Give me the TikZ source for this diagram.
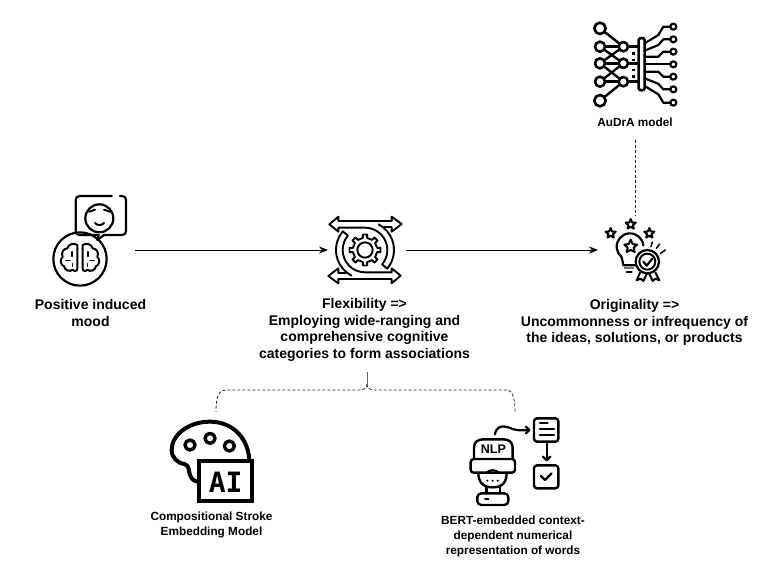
\documentclass[tikz,border=0pt]{standalone}
\usepackage{fontspec}
\setmainfont{Liberation Sans}
\newfontfamily\iconfont{DejaVu Sans Mono}
\usetikzlibrary{arrows.meta}
\usetikzlibrary{calc}

\tikzset{
    iconbox/.style = {minimum width=#1, inner sep=0pt, outer sep=0pt},
    caption/.style = {align=center, inner sep=0pt, font=\bfseries\fontsize{14}{16.8}\selectfont},
    smallcaption/.style = {align=center, inner sep=0pt, font=\bfseries\fontsize{11.8}{15}\selectfont},
    flow/.style = {line width=0.9pt, black, -{Stealth[length=9pt,width=7pt]}},
    linkdash/.style = {line width=0.8pt, dash pattern=on 3pt off 2pt, black!85},
    icon/.style = {line width=#1, black, line cap=round, line join=round},
    icon/.default = 2pt
}

% five pointed star, centre and radius
\newcommand{\iconstar}[3]{
    \draw [icon=2pt, shift={(#1,#2)}]
        (-90:#3) -- (-54:0.45*#3) -- (-18:#3) -- (18:0.45*#3) -- (54:#3) -- (90:0.45*#3)
        -- (126:#3) -- (162:0.45*#3) -- (198:#3) -- (234:0.45*#3) -- cycle;
}

\begin{document}
\begin{tikzpicture}[x=1pt, y=-1pt]
    \useasboundingbox (0,0) rectangle (781,577);

    % Invisible boxes around the icons, the connectors run between them
    \node [iconbox=78pt, minimum height=98pt] (MoodBox)  at (96,250)  {};
    \node [iconbox=78pt, minimum height=80pt] (GearBox)  at (367,250) {};
    \node [iconbox=74pt, minimum height=70pt] (BulbBox)  at (635,250) {};
    \node [iconbox=80pt, minimum height=90pt] (PaintBox) at (216,457) {};
    \node [iconbox=90pt, minimum height=90pt] (TalkBox)  at (515,457) {};

    % Labels
    \node [caption] (MoodText) at (90.5,313) {Positive induced\\mood};
    \node [caption] (GearText) at (364.5,330) {Flexibility =>\\Employing wide-ranging and\\comprehensive cognitive\\categories to form associations};
    \node [caption] (BulbText) at (634.5,322.5) {Originality =>\\Uncommonness or infrequency of\\the ideas, solutions, or products};
    \node [smallcaption] (ModelText) at (635,122) {AuDrA model};
    \node [smallcaption] (PaintText) at (211.5,524.5) {Compositional Stroke\\Embedding Model};
    \node [smallcaption] (TalkText)  at (513,536) {BERT-embedded context-\\dependent numerical\\representation of words};

    % Connectors
    \draw [flow] (MoodBox.east) -- (GearBox.west);
    \draw [flow] (GearBox.east) -- (BulbBox.west);
    \draw [linkdash] ([yshift=-13pt]ModelText.south) -- (BulbBox.north);

    \coordinate (Fork) at (367,384);
    \draw [line width=0.8pt, black!60] (367,372) -- (Fork);
    \draw [linkdash] (Fork) .. controls (367,388) and (365,390) .. (358,390) -- (226,390)
        .. controls (220,390) and (216,394) .. (PaintBox.north);
    \draw [linkdash] (Fork) .. controls (367,388) and (369,390) .. (376,390) -- (506,390)
        .. controls (511,390) and (515,394) .. (TalkBox.north);

    % Mood icon
    \begin{scope}[shift={(40,185)}, scale=1/3]
        \draw [icon=2.2pt] (240,33) -- (246,33) .. controls (254,33) and (258,37) .. (258,45) -- (258,138)
            .. controls (258,146) and (254,150) .. (246,150) -- (192,150) -- (172,165) -- (176,150) -- (122,150)
            .. controls (112,150) and (107,146) .. (107,138) -- (107,45) .. controls (107,37) and (112,33) .. (120,33) -- (215,33);
        \draw [icon=2.2pt] (178,100) circle (42);
        \draw [icon=2pt] (148,80) -- (165,74);
        \draw [icon=2pt] (192,74) -- (210,80);
        \draw [icon=2pt] (165,114) .. controls (170,122) and (186,122) .. (192,114);
        \draw [icon=2.2pt] (120,222) circle (80);
        \foreach \side in {1,-1} {
            \begin{scope}[shift={(120,220)}, xscale=\side]
                \draw [icon=2pt] (8,-40) .. controls (20,-48) and (35,-42) .. (38,-30)
                    .. controls (50,-30) and (58,-15) .. (52,-5)
                    .. controls (62,5) and (58,20) .. (48,24)
                    .. controls (46,36) and (30,42) .. (22,34)
                    .. controls (16,42) and (8,38) .. (8,30) -- cycle;
                \draw [icon=1.5pt] (24,-20) -- (24,-6);
                \draw [icon=1.5pt] (30,6) -- (42,6);
                \draw [icon=1.5pt] (22,16) -- (22,24);
            \end{scope}
        }
    \end{scope}

    % Gear icon
    \begin{scope}[shift={(320,205)}, scale=1/3]
        \foreach \turn in {0,180} {
            \begin{scope}[rotate around={\turn:(135,135)}]
                \draw [icon=1.9pt] (215,48) -- (55,48) -- (55,35) -- (28,58) -- (55,80) -- (55,68) -- (135,68)
                    arc [start angle=-90, end angle=40, radius=67]
                    -- ($(135,135)+(40:87)$)
                    arc [start angle=40, end angle=-62, radius=87];
                \draw [icon=1.9pt] (215,48) -- (215,35) -- (245,57) -- (215,80) -- (215,66) -- (192,66);
            \end{scope}
        }
        \foreach \a in {0,45,...,315} {
            \draw [icon=1.9pt, shift={(135,135)}] (\a-25:36) -- (\a-10:37) -- (\a-8:47) -- (\a+8:47) -- (\a+10:37) -- (\a+20:36);
        }
        \draw [icon=1.9pt] (135,135) circle (23);
    \end{scope}

    % Bulb icon
    \begin{scope}[shift={(590,200)}, scale=1/3]
        \iconstar{62}{100}{16}
        \iconstar{122}{73}{16}
        \iconstar{178}{100}{16}
        \draw [icon=2.2pt] ($(120,140)+(-5:40)$) arc [start angle=-5, end angle=-230, radius=40]
            .. controls (96,180) and (100,188) .. (100,196) -- (135,196);
        \draw [icon=2pt, fill=white] (90,137) ++(32,-18) -- ++(6,13) -- ++(13,2) -- ++(-10,9) -- ++(3,13) -- ++(-12,-6) -- ++(-12,6) -- ++(3,-13) -- ++(-10,-9) -- ++(13,-2) -- cycle;
        \draw [line width=2pt, black!55] (103,205) -- (132,205);
        \draw [icon=2.2pt] (110,216) -- (125,216);
        \draw [icon=2pt, fill=white] (150,218) -- (140,241) -- (152,236) -- (160,243) -- (170,222);
        \draw [icon=2pt, fill=white] (178,222) -- (188,243) -- (196,236) -- (208,241) -- (196,218);
        \draw [icon=2.2pt, fill=white] (172,185) circle (35);
        \draw [icon=2pt] (172,185) circle (24);
        \draw [icon=2.2pt] (160,185) -- (170,197) -- (187,176);
        \draw [icon=1.5pt] (183,140) -- (187,126);
        \draw [icon=1.5pt] (199,145) -- (209,132);
        \draw [icon=1.5pt] (212,160) -- (226,150);
    \end{scope}

    % Network icon
    \begin{scope}[shift={(570,10)}, scale=1/3]
        \foreach \from/\to in {55/110, 110/110, 110/160, 160/110, 160/160, 160/215, 215/160, 215/215, 272/215} {
            \draw [icon=2.4pt] (90,\from) -- (160,\to);
        }
        \foreach \y/\r in {55/17, 110/15, 160/15, 215/15, 272/17} {
            \draw [icon=2.6pt, fill=white] (90,\y) circle (\r);
        }
        \foreach \y in {110,160,215} {
            \draw [icon=2.4pt] (160,\y) -- (205,\y);
            \draw [icon=2.6pt, fill=white] (160,\y) circle (14);
        }
        \foreach \y in {130,150,180,200} {
            \fill (186,\y-4) rectangle (194,\y+4);
        }
        \draw [icon=2.6pt] (206,90) .. controls (206,82) and (224,82) .. (224,90) -- (224,235) .. controls (224,243) and (206,243) .. (206,235) -- cycle;
        \foreach \ya/\yb/\yc in {100/50/50, 122/88/88, 140/140/125, 163/163/163, 185/185/200, 205/238/238, 228/278/278} {
            \draw [icon=2.2pt] (224,\ya) -- (265,\ya/2+\yb/2) -- (280,\yc) -- (301,\yc);
            \draw [icon=2.2pt, fill=white] (310,\yc) circle (9);
        }
    \end{scope}

    % Palette icon
    \begin{scope}[shift={(160,370)}, scale=1/3]
        \draw [icon=4pt] (268,268) .. controls (262,195) and (210,155) .. (150,155)
            .. controls (85,155) and (35,195) .. (35,240)
            .. controls (35,265) and (55,280) .. (75,283)
            .. controls (90,288) and (85,305) .. (90,315)
            .. controls (95,330) and (105,335) .. (118,335);
        \draw [icon=3.4pt] (90,225) circle (15);
        \draw [icon=3.4pt] (150,205) circle (15);
        \draw [icon=3.4pt] (208,228) circle (15);
        \draw [line width=4pt, fill=white] (118,272) rectangle (275,392);
        \node [font=\iconfont\bfseries\fontsize{28}{28}\selectfont, inner sep=0pt] (PaintMark) at (197,337) {AI};
    \end{scope}

    % Language icon
    \begin{scope}[shift={(450,390)}, scale=1/3]
        \draw [icon=2.4pt] (72,205) -- (72,172) .. controls (72,156) and (84,148) .. (100,148) -- (160,148)
            .. controls (176,148) and (188,156) .. (188,172) -- (188,205);
        \node [font=\bfseries\fontsize{12.5}{13}\selectfont, inner sep=0pt] (TalkMark) at (130,178) {NLP};
        \draw [icon=2.4pt, rounded corners=3pt] (62,207) rectangle (195,248);
        \draw [icon=2.4pt] (85,248) .. controls (85,278) and (100,292) .. (128,292) .. controls (156,292) and (170,278) .. (170,248);
        \draw [icon=2pt] (110,248) .. controls (118,238) and (138,238) .. (146,248);
        \foreach \x in {112,128,143} {
            \fill (\x,272) circle (3.5);
        }
        \draw [icon=2.4pt] (110,292) -- (110,310);
        \draw [icon=2.4pt] (150,292) -- (150,310);
        \draw [icon=2.4pt, rounded corners=4pt] (82,310) rectangle (175,345);
        \draw [icon=2pt] (105,326) -- (115,326);
        \draw [icon=2.2pt] (135,133) .. controls (138,110) and (155,105) .. (175,112) .. controls (195,122) and (215,122) .. (238,120);
        \draw [icon=2.2pt] (228,110) -- (238,120) -- (228,130);
        \draw [icon=2.4pt, rounded corners=3pt] (252,85) rectangle (325,155);
        \draw [icon=2.2pt] (270,100) -- (293,100);
        \draw [icon=2.2pt] (270,118) -- (312,118);
        \draw [icon=2.2pt] (270,136) -- (312,136);
        \draw [icon=2.2pt] (290,155) -- (290,210);
        \draw [icon=2.2pt] (279,200) -- (290,211) -- (301,200);
        \draw [icon=2.4pt, rounded corners=3pt] (252,226) rectangle (325,295);
        \draw [icon=2.2pt] (273,258) -- (285,270) -- (305,250);
    \end{scope}
\end{tikzpicture}
\end{document}
